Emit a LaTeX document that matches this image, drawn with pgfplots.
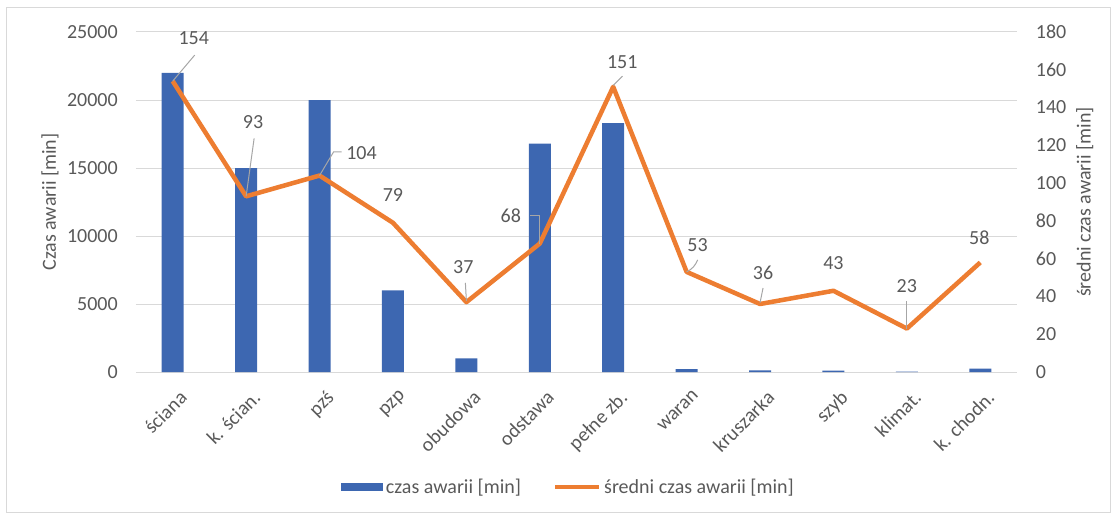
\documentclass[border=0pt]{standalone}
\usepackage{fontspec}
\setmainfont{Carlito}
\usepackage{pgfplots}
\usepackage{pgfplotstable}
\pgfplotsset{compat=1.18}

\definecolor{barblue}{RGB}{61,103,177}
\definecolor{lineorange}{RGB}{237,125,49}
\definecolor{txtgray}{RGB}{89,89,89}
\definecolor{gridgray}{RGB}{217,217,217}
\definecolor{leadergray}{RGB}{166,166,166}

% idx: category, total: total downtime [min], avg: mean downtime [min]
\pgfplotstableread{
idx total avg
0   22000 154
1   15000 93
2   20000 104
3   6000  79
4   1000  37
5   16800 68
6   18300 151
7   220   53
8   120   36
9   100   43
10  20    23
11  250   58
}\failures

% value label for the mean-downtime line: {x}{value}{dx}{dy}
\newcommand{\vlabel}[4]{%
  \node[anchor=center, inner sep=0pt, text=txtgray, font=\fontsize{15}{18}\selectfont]
    at ([shift={(#3pt,#4pt)}]axis cs:#1,#2) {#2};}

\pgfplotsset{
  every axis/.append style={
    scale only axis, width=660.75pt, height=255pt,
    xmin=-0.5, xmax=11.5,
    axis line style={draw=none},
    major tick length=0pt,
    /pgf/number format/assume math mode=true,
    /pgf/number format/1000 sep={},
    tick label style={font=\fontsize{15}{18}\selectfont, text=txtgray},
    label style={font=\fontsize{15}{18}\selectfont, text=txtgray},
  },
}

\begin{document}
\begin{tikzpicture}[font=\fontsize{15}{18}\selectfont]
\useasboundingbox (-102pt,-108.75pt) rectangle (735pt,279pt);
\draw[gridgray, line width=0.75pt] (-96.75pt,-105pt) rectangle (730.5pt,273pt);

% left axis: total downtime as bars
\begin{axis}[
  ymin=0, ymax=25000,
  ytick={0,5000,...,25000},
  scaled y ticks=false,
  ymajorgrids,
  major grid style={gridgray, line width=0.75pt},
  yticklabel style={anchor=east, inner sep=0pt, xshift=-13.5pt},
  xtick={0,...,11},
  xticklabels={ściana, k. ścian., pzś, pzp, obudowa, odstawa, pełne zb., waran, kruszarka, szyb, klimat., k. chodn.},
  xticklabel style={rotate=45, anchor=north east, inner sep=0pt, yshift=-12pt, xshift=-6pt},
  ylabel={Czas awarii [min]},
  ylabel style={at={(axis description cs:-0.0976,0.5)}, anchor=center},
  legend style={at={(0.491,-0.338)}, anchor=center, draw=none, fill=none,
    legend columns=2, font=\fontsize{15}{18}\selectfont, text=txtgray,
    nodes={inner xsep=2pt},
    /tikz/every even column/.append style={column sep=22pt}},
]
\addplot[ybar, bar width=16.5pt, fill=barblue, draw=none,
  legend image code/.code={\fill[barblue] (0pt,-3pt) rectangle (32pt,3pt);}]
  table[x=idx, y=total] {\failures};
\addlegendentry{czas awarii [min]}
\addlegendimage{legend image code/.code={\draw[lineorange, line width=3.4pt] (0pt,0pt) -- (33pt,0pt);}}
\addlegendentry{średni czas awarii [min]}
\end{axis}

% right axis: mean downtime as a line with value labels
\begin{axis}[
  ymin=0, ymax=180,
  ytick={0,20,...,180},
  xtick=\empty,
  yticklabel pos=right,
  yticklabel style={anchor=west, inner sep=0pt, xshift=14pt},
  ylabel={średni czas awarii [min]},
  ylabel style={at={(axis description cs:1.077,0.5)}, anchor=center},
  clip=false,
]
\addplot[lineorange, line width=3.4pt, line join=round]
  table[x=idx, y=avg] {\failures};

% leader lines from the points to their value labels
\begin{scope}[leadergray, line width=0.75pt]
\draw (axis cs:0,154) -- ++(16.5pt,19.5pt);
\draw (axis cs:1,93) -- ++(6pt,43.5pt);
\draw (axis cs:2,104) -- ++(10.5pt,17.7pt) -- ++(6pt,0pt);
\draw (axis cs:4,37) ++(0pt,1pt) -- ++(-0.75pt,13.5pt);
\draw (axis cs:5,68) -- ++(0pt,20.7pt) -- ++(-7.5pt,0pt);
\draw (axis cs:6,151) ++(0pt,1pt) -- ++(7pt,7pt);
\draw (axis cs:7,53) to[bend right=20] ++(8.25pt,9pt);
\draw (axis cs:8,36) ++(0pt,1pt) -- ++(2.25pt,11pt);
\draw (axis cs:10,23) -- ++(0pt,21pt);
\end{scope}

\vlabel{0}{154}{15.75}{32.25}
\vlabel{1}{93}{5.25}{55.5}
\vlabel{2}{104}{31.5}{17}
\vlabel{3}{79}{0}{21}
\vlabel{4}{37}{-2.25}{26.25}
\vlabel{5}{68}{-21.75}{20.7}
\vlabel{6}{151}{6.75}{18.6}
\vlabel{7}{53}{8.25}{20}
\vlabel{8}{36}{2.25}{23.25}
\vlabel{9}{43}{0}{21}
\vlabel{10}{23}{0}{32}
\vlabel{11}{58}{-0.75}{18.5}
\end{axis}
\end{tikzpicture}
\end{document}
